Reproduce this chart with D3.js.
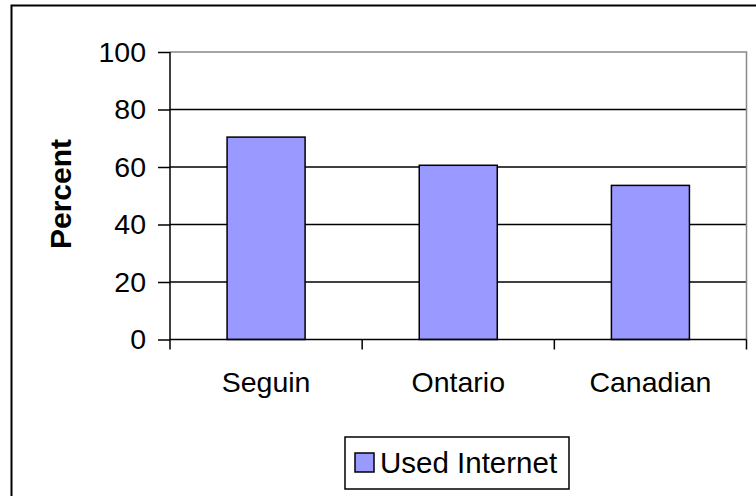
<!DOCTYPE html>
<html><head><meta charset="utf-8">
<script src="https://cdn.jsdelivr.net/npm/d3@7"></script>
<style>body{margin:0;background:#fff}svg{display:block}text{font-family:"Liberation Sans",Arial,sans-serif;fill:#000}</style>
</head><body><svg id="c" width="756" height="496"></svg>
<script>
const categories = ["Seguin","Ontario","Canadian"];
const values = [70.4, 60.6, 53.6];
const yTicks = [0,20,40,60,80,100];
const seriesName = "Used Internet";
const yTitle = "Percent";

const svg = d3.select("#c");
const W=756,H=496;
svg.append("rect").attr("x",0).attr("y",0).attr("width",W).attr("height",H).attr("fill","#fff");
// outer frame
svg.append("rect").attr("x",11.5).attr("y",5.5).attr("width",800).attr("height",600)
  .attr("fill","none").attr("stroke","#000").attr("stroke-width",2);

const L=170,R=746.5,T=52,B=339.5;
const x=d3.scaleBand().domain(categories).range([L,R]).paddingInner(0.594).paddingOuter(0.297);
const xb=d3.scaleBand().domain(categories).range([L,R]);
const y=d3.scaleLinear().domain([0,100]).range([B,T]);

// gridlines
svg.append("g").selectAll("line").data(yTicks.filter(d=>d>0&&d<100)).join("line")
  .attr("x1",L).attr("x2",R).attr("y1",d=>y(d)).attr("y2",d=>y(d)).attr("stroke","#000").attr("stroke-width",1.5);
// plot border top & right gray
svg.append("path").attr("d",`M${L},${T}H${R}V${B}`).attr("fill","none").attr("stroke","#888").attr("stroke-width",1.5);

// bars
svg.append("g").selectAll("rect").data(values).join("rect")
  .attr("x",(d,i)=>x(categories[i])).attr("width",x.bandwidth())
  .attr("y",d=>y(d)).attr("height",d=>B-y(d))
  .attr("fill","#9999ff").attr("stroke","#000").attr("stroke-width",1.5);

// y axis
const ya=svg.append("g").attr("transform",`translate(${L},0)`)
  .call(d3.axisLeft(y).tickValues(yTicks).tickSize(12).tickPadding(12).tickFormat(d3.format("d")));
ya.select(".domain").attr("stroke","#000").attr("stroke-width",1.5).attr("d",`M0,${T}V${B}`);
ya.selectAll(".tick line").attr("stroke","#000").attr("stroke-width",1.5);
ya.selectAll(".tick text").attr("font-size",28.5).attr("font-family","Liberation Sans, Arial, sans-serif").attr("fill","#000");

// x axis
const xa=svg.append("g").attr("transform",`translate(0,${B})`)
  .call(d3.axisBottom(xb).tickSize(0).tickPadding(0));
xa.select(".domain").attr("stroke","#000").attr("stroke-width",1.5).attr("d",`M${L},0H${R}`);
xa.selectAll(".tick text").attr("font-size",28.5).attr("font-family","Liberation Sans, Arial, sans-serif").attr("fill","#000").attr("dy",null).attr("y",52);
// category separator ticks
svg.append("g").selectAll("line").data(categories.concat(["_end"])).join("line")
  .attr("x1",(d,i)=>i<categories.length?xb(d):R).attr("x2",(d,i)=>i<categories.length?xb(d):R)
  .attr("y1",B).attr("y2",B+10).attr("stroke","#000").attr("stroke-width",1.5);

// y title
svg.append("text").attr("transform",`translate(71,194) rotate(-90)`).attr("text-anchor","middle")
  .attr("font-size",30).attr("font-weight","bold").text(yTitle);

// legend
const lg=svg.append("g");
lg.append("rect").attr("x",345).attr("y",437).attr("width",224).attr("height",52).attr("fill","#fff").attr("stroke","#000").attr("stroke-width",1.5);
lg.append("rect").attr("x",355).attr("y",453).attr("width",19).attr("height",19).attr("fill","#9999ff").attr("stroke","#000").attr("stroke-width",1.5);
lg.append("text").attr("x",380).attr("y",473).attr("font-size",29.5).text(seriesName);
</script></body></html>
